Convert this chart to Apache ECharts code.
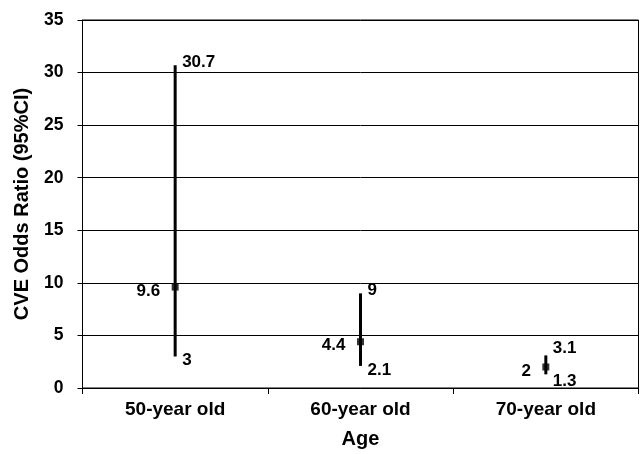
<!DOCTYPE html>
<html>
<head>
<meta charset="utf-8">
<script src="https://cdn.jsdelivr.net/npm/echarts@6/dist/echarts.min.js"></script>
<style>
html,body{margin:0;padding:0;background:#fff;}
#chart{width:640px;height:454px;}
</style>
</head>
<body>
<div id="chart"></div>
<script>
const categories = ['50-year old', '60-year old', '70-year old'];
const oddsRatio = [9.6, 4.4, 2];
const ciLower = [3, 2.1, 1.3];
const ciUpper = [30.7, 9, 3.1];
const yMin = 0, yMax = 35, yStep = 5;

const FONT = '"Liberation Sans", Arial, sans-serif';
const chart = echarts.init(document.getElementById('chart'));

const ciData = categories.map((c, i) => [i, ciLower[i], ciUpper[i], oddsRatio[i]]);
const pointData = categories.map((c, i) => [i, oddsRatio[i]]);

function renderCI(params, api) {
  const idx = api.value(0);
  const lo = api.coord([idx, api.value(1)]);
  const hi = api.coord([idx, api.value(2)]);
  const pt = api.coord([idx, api.value(3)]);
  const mid = (lo[1] + hi[1]) / 2;
  const hiY = Math.min(hi[1] - 3, mid - 17);
  const loY = Math.max(lo[1] + 4, mid + 16);
  const txt = (x, y, s, align) => ({
    type: 'text',
    x: x, y: y,
    style: {
      text: s, fill: '#000', font: 'bold 17px ' + FONT,
      align: align, verticalAlign: 'middle'
    }
  });
  return {
    type: 'group',
    children: [
      {
        type: 'line',
        shape: { x1: hi[0], y1: hi[1], x2: lo[0], y2: lo[1] },
        style: { stroke: '#000', lineWidth: 3 }
      },
      txt(hi[0] + 7, hiY, String(api.value(2)), 'left'),
      txt(lo[0] + 7, loY, String(api.value(1)), 'left'),
      txt(pt[0] - 15, pt[1] + 4, String(api.value(3)), 'right')
    ]
  };
}

chart.setOption({
  animation: false,
  backgroundColor: '#fff',
  grid: {
    left: 82.5, right: 1.5, top: 20, bottom: 64.5,
    show: true, borderColor: '#000', borderWidth: 1
  },
  xAxis: {
    type: 'category',
    data: categories,
    boundaryGap: true,
    name: 'Age',
    nameLocation: 'middle',
    nameGap: 41,
    nameTextStyle: { fontFamily: FONT, fontWeight: 'bold', fontSize: 20, color: '#000' },
    axisLine: { show: true, lineStyle: { color: '#000', width: 1 } },
    axisTick: { show: true, alignWithLabel: false, length: 6, lineStyle: { color: '#000' } },
    axisLabel: { fontFamily: FONT, fontWeight: 'bold', fontSize: 19, color: '#000', margin: 12 },
    splitLine: { show: false }
  },
  yAxis: {
    type: 'value',
    min: yMin, max: yMax, interval: yStep,
    name: 'CVE Odds Ratio (95%CI)',
    nameLocation: 'middle',
    nameGap: 50,
    nameTextStyle: { fontFamily: FONT, fontWeight: 'bold', fontSize: 20, color: '#000' },
    axisLine: { show: true, lineStyle: { color: '#000', width: 1 } },
    axisTick: { show: true, length: 5, lineStyle: { color: '#000' } },
    axisLabel: { fontFamily: FONT, fontWeight: 'bold', fontSize: 17.5, color: '#000', margin: 19 },
    splitLine: { show: true, lineStyle: { color: '#000', width: 1 } }
  },
  series: [
    {
      type: 'custom',
      data: ciData,
      renderItem: renderCI,
      encode: { x: 0, y: [1, 2, 3] },
      z: 3
    },
    {
      type: 'scatter',
      data: pointData,
      symbol: 'rect',
      symbolSize: 7,
      itemStyle: { color: '#000' },
      z: 4
    }
  ]
});
</script>
</body>
</html>
